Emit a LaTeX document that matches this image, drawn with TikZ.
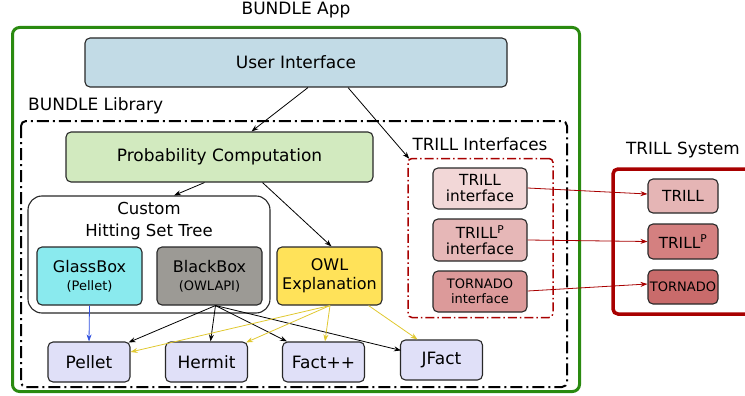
\documentclass[tikz,border=0pt]{standalone}
\usepackage{fontspec}
\setmainfont{DejaVu Sans}
\usetikzlibrary{arrows.meta,calc}
\definecolor{uiC}{RGB}{194,219,230}
\definecolor{pcC}{RGB}{210,234,191}
\definecolor{glassC}{RGB}{138,234,238}
\definecolor{blackC}{RGB}{156,154,149}
\definecolor{owlC}{RGB}{255,226,89}
\definecolor{reasC}{RGB}{224,224,248}
\definecolor{tiA}{RGB}{242,215,215}
\definecolor{tiB}{RGB}{230,183,183}
\definecolor{tiC}{RGB}{220,154,154}
\definecolor{tsA}{RGB}{229,181,181}
\definecolor{tsB}{RGB}{212,128,128}
\definecolor{tsC}{RGB}{201,107,107}
\definecolor{appG}{RGB}{42,138,16}
\definecolor{dred}{RGB}{168,0,0}
\definecolor{yarr}{RGB}{224,200,48}
\definecolor{barr}{RGB}{48,80,224}
\definecolor{edgeC}{RGB}{40,40,40}
\tikzset{
  box/.style={draw=edgeC, line width=1.1pt, rounded corners=5pt, align=center, inner sep=0pt, font=\fontsize{17}{19}\selectfont},
  conn/.style={line width=0.8pt, -{Stealth[length=7pt,width=5pt]}},
  lbl/.style={font=\fontsize{17}{19}\selectfont, inner sep=0pt},
}
\begin{document}
\begin{tikzpicture}[x=1pt,y=-1pt]
\useasboundingbox (0,0) rectangle (745,396);
\clip (0,0) rectangle (745,396);
% containers
\node[lbl] (applbl) at (296,10) {BUNDLE App};
\draw[appG, line width=3pt, rounded corners=7pt] (12.5,27.5) rectangle (579.5,391.5);
\node[lbl, anchor=west] (liblbl) at (28,106) {BUNDLE Library};
\draw[black, line width=2pt, rounded corners=5pt, dash pattern=on 12pt off 4pt on 2pt off 4pt] (21,121) rectangle (567,387);
\node[lbl, font=\fontsize{16.8}{19}\selectfont] (tilbl) at (480,144) {TRILL Interfaces};
\node[draw=dred, line width=1.5pt, rounded corners=4pt, dash pattern=on 9pt off 3pt on 1.5pt off 3pt, minimum width=145pt, minimum height=159pt, inner sep=0pt] (tibox) at (480.5,238) {};
\node[lbl, font=\fontsize{16.8}{19}\selectfont] (tslbl) at (683,150) {TRILL System};
\draw[dred, line width=3.5pt, rounded corners=5pt] (613,169) rectangle (770,314);
% main nodes
\node[box, fill=uiC, minimum width=422pt, minimum height=49pt] (ui) at (296,62.5) {User Interface};
\node[box, fill=pcC, minimum width=307pt, minimum height=50pt] (pc) at (219.5,157) {Probability Computation};
\node[box, fill=white, rounded corners=14pt, minimum width=242pt, minimum height=117pt] (hst) at (149,254.5) {};
\node[lbl, align=center, font=\fontsize{16.5}{22}\selectfont] (hsttitle) at (149,221) {Custom\\Hitting Set Tree};
\node[box, fill=glassC, minimum width=105pt, minimum height=58pt, font=\fontsize{16}{19}\selectfont] (glass) at (89.5,276) {GlassBox\\[-1pt]{\fontsize{13}{15}\selectfont (Pellet)}};
\node[box, fill=blackC, minimum width=105pt, minimum height=58pt, font=\fontsize{16}{19}\selectfont] (blk) at (209.5,276) {BlackBox\\[-1pt]{\fontsize{13}{15}\selectfont (OWLAPI)}};
\node[box, fill=owlC, minimum width=105pt, minimum height=58pt, font=\fontsize{16}{19}\selectfont] (owl) at (329.5,276) {OWL\\Explanation};
\node[box, fill=reasC, minimum width=82pt, minimum height=40pt] (pellet) at (89,362) {Pellet};
\node[box, fill=reasC, minimum width=82pt, minimum height=40pt] (hermit) at (206.5,362) {Hermit};
\node[box, fill=reasC, minimum width=82pt, minimum height=40pt] (fact) at (323.5,362) {Fact++};
\node[box, fill=reasC, minimum width=82pt, minimum height=40pt] (jfact) at (441.5,360) {JFact};
% TRILL interfaces
\node[box, fill=tiA, minimum width=94pt, minimum height=41pt, font=\fontsize{15.3}{16}\selectfont] (ti1) at (480,188.5) {TRILL\\interface};
\node[box, fill=tiB, minimum width=94pt, minimum height=42pt, font=\fontsize{15.3}{16}\selectfont] (ti2) at (480,240) {TRILL\textsuperscript{P}\\interface};
\node[box, fill=tiC, minimum width=94pt, minimum height=41pt, font=\fontsize{13}{15}\selectfont] (ti3) at (480,291.5) {TORNADO\\interface};
% TRILL system
\node[box, fill=tsA, minimum width=70pt, minimum height=34pt, font=\fontsize{15.3}{16}\selectfont] (ts1) at (683,196) {TRILL};
\node[box, fill=tsB, minimum width=70pt, minimum height=35pt, font=\fontsize{15.3}{16}\selectfont] (ts2) at (683,241.5) {TRILL\textsuperscript{P}};
\node[box, fill=tsC, minimum width=70pt, minimum height=34pt, font=\fontsize{13}{15}\selectfont] (ts3) at (683,287) {TORNADO};
% connectors
\draw[conn] ($(ui.south)+(12,0)$) -- ($(pc.north)+(32,0)$);
\draw[conn] ($(ui.south)+(52,0)$) -- ($(tibox.north west)+(2,1)$);
\draw[conn] ($(pc.south)+(-15,0)$) -- ($(hst.north)+(25,0)$);
\draw[conn] ($(pc.south)+(43,0)$) -- ($(owl.north)+(2,0)$);
\draw[conn, barr] (glass.south) -- (pellet.north);
\coordinate (bs) at ($(blk.south)+(6,0)$);
\draw[conn] (bs) -- ($(pellet.north east)+(-2,1)$);
\draw[conn] (bs) -- ($(hermit.north)+(4,0)$);
\draw[conn] (bs) -- ($(fact.north west)+(5,0)$);
\draw[conn] (bs) -- ($(jfact.north west)+(1,11)$);
\coordinate (os) at ($(owl.south)+(0.5,0)$);
\coordinate (os2) at ($(owl.south east)+(-14,0)$);
\draw[conn, yarr] (os) -- ($(pellet.east)+(0,-10)$);
\draw[conn, yarr] (os) -- ($(hermit.north east)+(-2,1)$);
\draw[conn, yarr] (os) -- ($(fact.north)+(1.5,0)$);
\draw[conn, yarr] (os2) -- ($(jfact.north)+(-24,0)$);
\draw[conn, dred] ($(ti1.east)+(0,-0.5)$) -- ($(ts1.west)+(0,-2)$);
\draw[conn, dred] (ti2.east) -- (ts2.west);
\draw[conn, dred] ($(ti3.east)+(0,-0.5)$) -- ($(ts3.west)+(0,-3)$);
\end{tikzpicture}
\end{document}
